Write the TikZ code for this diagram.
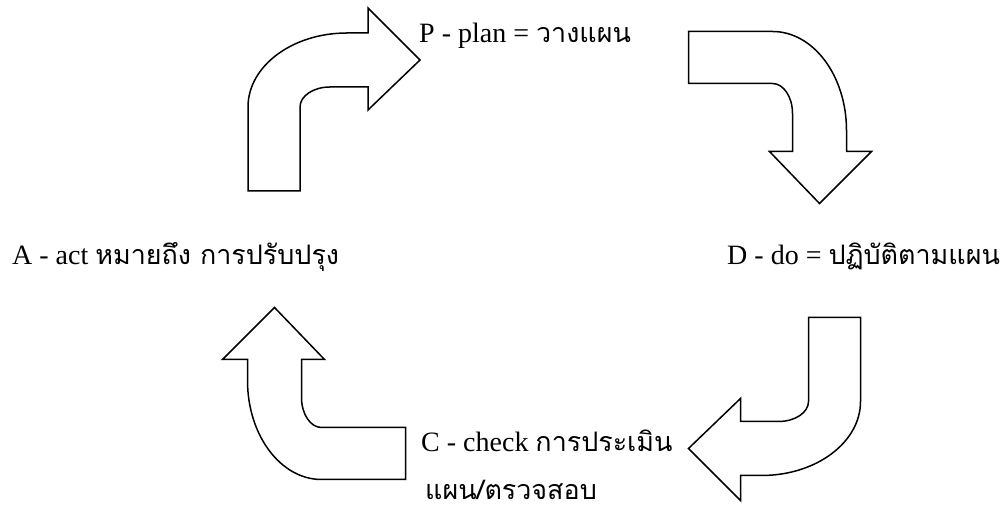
\documentclass[tikz,border=0pt]{standalone}
\usepackage{fontspec}
\setmainfont{Liberation Serif}
\newfontfamily\thaifont[Script=Thai,Scale=0.96]{Loma}

\begin{document}
\begin{tikzpicture}[x=1pt, y=1pt,
  lbl/.style={anchor=base west, inner sep=0pt, font=\fontsize{28}{34}\selectfont},
  bent/.pic={
    % shaft goes up, turns right, ends in the head
    \draw[line width=1.5pt, fill=white]
      (-86,-91.5) -- (-34,-91.5) -- (-34,-7.5)
      arc[start angle=180, end angle=90, x radius=30, y radius=20]
      -- (34,12.5) -- (34,-10.5) -- (86,39.5) -- (34,91.5) -- (34,66.5)
      -- (13,66.5)
      arc[start angle=90, end angle=180, x radius=99, y radius=74]
      -- cycle;
  }
]
\fill[white] (0,0) rectangle (1003,513);
\useasboundingbox (0,0) rectangle (1003,513);

\pic             at (334,413.5)   {bent};
\pic[rotate=-90] at (780,395.5)   {bent};
\pic[rotate=180] at (774.5,104)   {bent};
\pic[rotate=90]  at (314,119.5)   {bent};

\node[lbl] (plan)   at (419,470) {P - plan = {\thaifont วางแผน}};
\node[lbl] (do)     at (727,248) {D - do = {\thaifont ปฏิบัติตามแผน}};
\node[lbl] (check)  at (421,61)  {C - check {\thaifont การประเมิน}};
\node[lbl] (checkb) at (425,13)  {\thaifont แผน/ตรวจสอบ};
\node[lbl] (act)    at (12,248)  {A - act {\thaifont หมายถึง การปรับปรุง}};
\end{tikzpicture}
\end{document}
